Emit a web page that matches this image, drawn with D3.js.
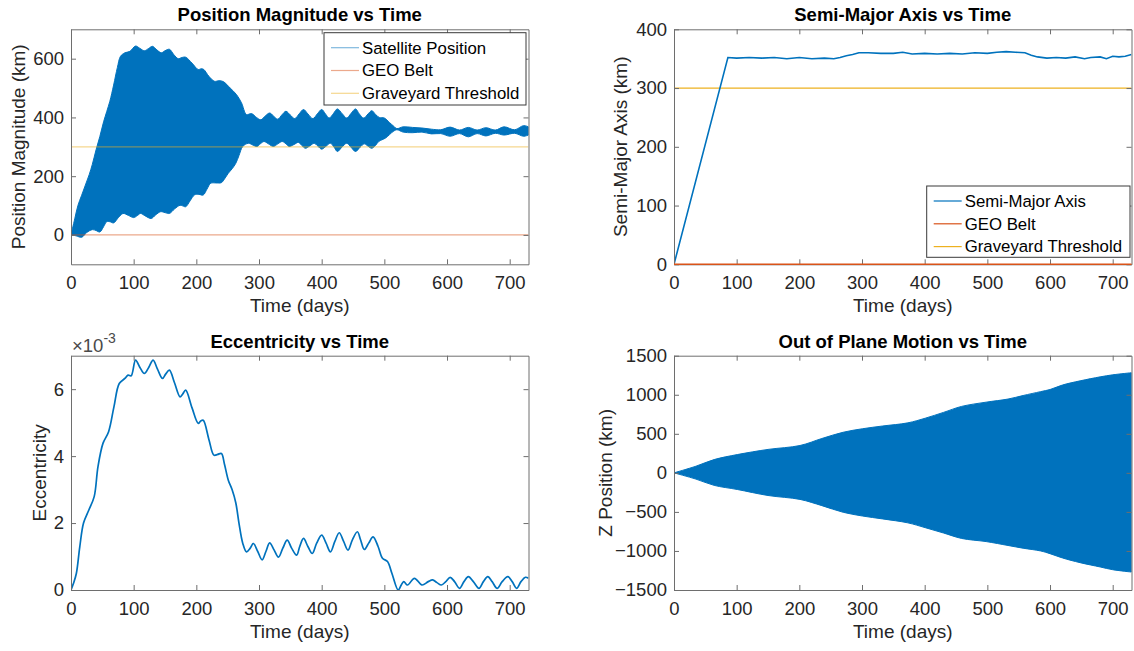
<!DOCTYPE html>
<html>
<head>
<meta charset="utf-8">
<title>Orbit plots</title>
<script src="https://d3js.org/d3.v7.min.js"></script>
<style>
  body { margin: 0; background: #fff; }
  svg { display: block; font-family: "Liberation Sans", Arial, sans-serif; }
</style>
</head>
<body>
<svg id="fig" width="1134" height="651"></svg>
<script>
// ---- data ----
var xTicks = [0, 100, 200, 300, 400, 500, 600, 700];

// position magnitude: envelope of the fast daily oscillation (km)
var posUpperDays = [0,6,11,17,23,29,34,40,46,52,57,62,68,74,79,86,94,103,110,117,124,130,137,144,150,157,164,171,177,183,193,203,208,212,220,229,236,243,254,264,272,280,288,296,303,310,317,323,330,337,343,350,357,364,371,378,386,393,400,406,412,419,425,433,440,447,454,460,467,474,480,486,492,500,508,515,520,530,545,560,575,590,605,620,634,648,662,677,691,708,722,730];
var posUpperKm = [0,55,100,135,170,205,240,290,335,385,420,455,510,570,608,620,625,643,635,627,635,642,630,620,627,632,614,600,604,605,585,563,566,563,540,523,525,522,500,478,450,410,413,400,392,405,415,405,394,410,421,408,396,412,427,412,396,412,427,412,398,414,429,412,398,414,429,412,398,412,423,410,400,398,383,370,362,368,366,364,360,358,367,357,366,357,365,357,368,358,372,368];
var posLowerDays = [0,8,17,25,34,40,46,52,57,62,68,76,83,92,100,106,111,119,128,135,143,150,157,165,174,178,183,190,197,204,211,217,223,231,240,246,251,257,263,268,274,283,290,297,302,308,315,323,330,337,343,348,356,363,368,374,381,388,394,400,407,414,420,425,432,440,447,454,461,468,474,480,486,491,502,514,520,530,545,560,575,590,605,620,634,648,662,677,691,708,722,730];
var posLowerKm = [0,-3,-8,8,18,15,10,28,45,45,41,60,73,66,59,66,73,64,56,68,79,76,73,88,101,99,96,116,136,138,136,156,176,177,178,194,210,225,244,270,301,312,306,301,310,318,310,301,310,318,310,301,308,315,305,295,303,312,302,292,302,312,298,284,298,312,298,284,298,310,302,295,305,318,330,352,358,350,348,350,344,345,336,345,334,345,337,346,340,346,336,340];

var geoBeltKm = 0;
var graveyardKm = 300;

// semi-major axis offset (km)
var smaDays = [0,86,100,120,140,160,180,200,220,240,255,265,275,285,295,310,330,350,365,380,400,420,440,460,480,500,515,530,545,560,570,580,595,610,625,640,655,665,680,690,700,710,720,730];
var smaKm = [0,352,351,352,351,352,350,352,350,351,350,352,355,357,360,360,359,359,361,358,359,358,359,358,360,359,361,362,361,360,356,353,351,352,351,353,350,352,353,350,354,353,354,357];

// eccentricity
var eccDays = [0,4,8.6,14,20,28.5,37,43,51,60,68.5,77,86,91,96,103,110,117,124,131,138,146,151,157,165,174,178,183,193,203,207,211,220,228,234,240,245,251,257,263,268,274,280,286,291,298,305,311,317,324,331,338,345,352,360,365,371,378,385,392,400,407,414,421,428,435,442,449,457,462,468,475,482,490,497,505,512,522,527,531,537,548,560,570,577,584,591,598,605,612,620,627,634,642,651,658,665,672,680,688,697,704,711,718,725,730];
var eccValues = [0,0.0002,0.0005,0.00129,0.002,0.00239,0.00279,0.00368,0.00438,0.00473,0.00547,0.00617,0.00632,0.00642,0.0064,0.00687,0.00665,0.00647,0.00665,0.00687,0.0066,0.00632,0.00645,0.00657,0.0062,0.00577,0.00585,0.00597,0.00545,0.00498,0.00505,0.00507,0.0045,0.00403,0.00405,0.00408,0.00375,0.00328,0.003,0.0026,0.002,0.0014,0.00114,0.00125,0.00139,0.00115,0.0009,0.00115,0.00141,0.0012,0.00098,0.00125,0.00149,0.00125,0.00104,0.0013,0.00154,0.0013,0.00109,0.0014,0.00164,0.0014,0.00114,0.00145,0.00171,0.00145,0.00119,0.0015,0.00174,0.0015,0.00121,0.0014,0.00159,0.0013,0.00095,0.00085,0.0005,0,0.00015,0.00025,0.00015,0.00035,0.00015,0.00025,0.0003,0.00022,0.00015,0.00025,0.00038,0.00025,0.00005,0.00025,0.0004,0.00025,0.00005,0.00025,0.0004,0.00025,0.00005,0.00025,0.0004,0.00025,0.00005,0.00025,0.00038,0.00035];

// out of plane motion envelope (km)
var zDays = [0,35,64,101,150,201,236,270,301,333,373,401,430,459,498,533,557,585,600,620,648,680,700,730];
var zUpper = [0,85,170,234,300,350,440,520,565,600,640,700,774,851,905,945,990,1040,1067,1125,1178,1229,1255,1282];
var zLower = [0,-80,-160,-213,-290,-340,-420,-505,-553,-590,-640,-702,-770,-840,-880,-930,-965,-1000,-1035,-1090,-1150,-1205,-1240,-1270];

// ---- drawing ----
var blue = "#0072bd", orange = "#d95319", yellow = "#edb120";
var textColor = "#262626", lineColor = "#6e6e6e";
var svg = d3.select("#fig");

function makePanel(p) {
  var x = d3.scaleLinear().domain([0, 730]).range([p.left, p.right]);
  var y = d3.scaleLinear().domain(p.yDomain).range([p.bottom, p.top]);
  svg.append("clipPath").attr("id", "clip-" + p.id)
    .append("rect")
    .attr("x", p.left).attr("y", p.top)
    .attr("width", p.right - p.left).attr("height", p.bottom - p.top);
  var plot = svg.append("g").attr("clip-path", "url(#clip-" + p.id + ")");
  return { x: x, y: y, plot: plot, p: p };
}

function styleAxis(sel) {
  sel.select(".domain").attr("stroke", lineColor);
  sel.selectAll(".tick line").attr("stroke", lineColor);
  sel.selectAll("text").attr("fill", textColor).attr("font-size", 18.5)
    .attr("font-family", "Liberation Sans, Arial, sans-serif");
}

function drawFrame(ax, opts) {
  var p = ax.p;
  var g = svg.append("g");
  g.append("g").attr("transform", "translate(0," + p.bottom + ")")
    .call(d3.axisBottom(ax.x).tickValues(xTicks).tickSizeInner(-5).tickSizeOuter(0).tickPadding(12))
    .call(styleAxis);
  g.append("g").attr("transform", "translate(0," + p.top + ")")
    .call(d3.axisTop(ax.x).tickValues(xTicks).tickSizeInner(-5).tickSizeOuter(0).tickFormat(""))
    .call(styleAxis);
  g.append("g").attr("transform", "translate(" + p.left + ",0)")
    .call(d3.axisLeft(ax.y).tickValues(opts.yTicks).tickSizeInner(-5).tickSizeOuter(0).tickPadding(7)
      .tickFormat(opts.yFormat || d3.format("d")))
    .call(styleAxis);
  g.append("g").attr("transform", "translate(" + p.right + ",0)")
    .call(d3.axisRight(ax.y).tickValues(opts.yTicks).tickSizeInner(-5).tickSizeOuter(0).tickFormat(""))
    .call(styleAxis);

  g.append("text")
    .attr("x", (p.left + p.right) / 2).attr("y", p.top - 8)
    .attr("text-anchor", "middle").attr("font-weight", "bold").attr("font-size", 18.5)
    .attr("fill", "#000").text(opts.title);
  g.append("text")
    .attr("x", (p.left + p.right) / 2).attr("y", p.bottom + 48)
    .attr("text-anchor", "middle").attr("font-size", 19)
    .attr("fill", textColor).text("Time (days)");
  g.append("text")
    .attr("transform", "translate(" + opts.yLabelX + "," + (p.top + p.bottom) / 2 + ") rotate(-90)")
    .attr("text-anchor", "middle").attr("font-size", 19)
    .attr("fill", textColor).text(opts.yLabel);
  return g;
}

function drawLegend(box, items, alpha) {
  var g = svg.append("g");
  g.append("rect")
    .attr("x", box.x).attr("y", box.y).attr("width", box.w).attr("height", box.h)
    .attr("fill", "#fff").attr("stroke", "#3a3a3a").attr("stroke-width", 1);
  items.forEach(function (it, i) {
    var cy = box.y + 15 + i * 22.8;
    g.append("line")
      .attr("x1", box.x + 7).attr("x2", box.x + 35).attr("y1", cy).attr("y2", cy)
      .attr("stroke", it.color).attr("stroke-width", 1.2).attr("stroke-opacity", alpha);
    g.append("text")
      .attr("x", box.x + 38).attr("y", cy).attr("dy", "0.35em")
      .attr("font-size", 16.8).attr("fill", "#000").text(it.label);
  });
}

// panel 1: position magnitude
var ax1 = makePanel({ id: "pos", left: 71, right: 528.5, top: 29.3, bottom: 264.3, yDomain: [-100, 700] });
var upperPts = posUpperDays.map(function (d, i) { return [ax1.x(d), ax1.y(posUpperKm[i])]; });
var lowerPts = posLowerDays.map(function (d, i) { return [ax1.x(d), ax1.y(posLowerKm[i])]; }).reverse();
var env = d3.line().curve(d3.curveCatmullRom);
ax1.plot.append("path")
  .attr("d", env(upperPts) + env(lowerPts).replace(/^M/, "L") + "Z")
  .attr("fill", blue).attr("stroke", blue).attr("stroke-width", 1);
ax1.plot.append("line")
  .attr("x1", ax1.x(0)).attr("x2", ax1.x(730)).attr("y1", ax1.y(geoBeltKm)).attr("y2", ax1.y(geoBeltKm))
  .attr("stroke", orange).attr("stroke-width", 1.2).attr("stroke-opacity", 0.5);
ax1.plot.append("line")
  .attr("x1", ax1.x(0)).attr("x2", ax1.x(730)).attr("y1", ax1.y(graveyardKm)).attr("y2", ax1.y(graveyardKm))
  .attr("stroke", yellow).attr("stroke-width", 1.2).attr("stroke-opacity", 0.5);
drawFrame(ax1, { yTicks: [0, 200, 400, 600], title: "Position Magnitude vs Time", yLabel: "Position Magnitude (km)", yLabelX: 25 });
drawLegend({ x: 324, y: 32.7, w: 202, h: 72.3 }, [
  { label: "Satellite Position", color: blue },
  { label: "GEO Belt", color: orange },
  { label: "Graveyard Threshold", color: yellow }
], 0.5);

// panel 2: semi-major axis
var ax2 = makePanel({ id: "sma", left: 674, right: 1131.5, top: 29.3, bottom: 264.3, yDomain: [0, 400] });
ax2.plot.append("line")
  .attr("x1", ax2.x(0)).attr("x2", ax2.x(730)).attr("y1", ax2.y(graveyardKm)).attr("y2", ax2.y(graveyardKm))
  .attr("stroke", yellow).attr("stroke-width", 1.2);
ax2.plot.append("path")
  .datum(smaDays.map(function (d, i) { return [d, smaKm[i]]; }))
  .attr("d", d3.line().x(function (d) { return ax2.x(d[0]); }).y(function (d) { return ax2.y(d[1]); }))
  .attr("fill", "none").attr("stroke", blue).attr("stroke-width", 1.6);
drawFrame(ax2, { yTicks: [0, 100, 200, 300, 400], title: "Semi-Major Axis vs Time", yLabel: "Semi-Major Axis (km)", yLabelX: 627 });
svg.append("line")
  .attr("x1", ax2.x(0)).attr("x2", ax2.x(730)).attr("y1", ax2.y(geoBeltKm)).attr("y2", ax2.y(geoBeltKm))
  .attr("stroke", orange).attr("stroke-width", 1.5);
drawLegend({ x: 926.7, y: 186, w: 203.3, h: 71.3 }, [
  { label: "Semi-Major Axis", color: blue },
  { label: "GEO Belt", color: orange },
  { label: "Graveyard Threshold", color: yellow }
], 1);

// panel 3: eccentricity
var ax3 = makePanel({ id: "ecc", left: 71, right: 528.5, top: 355.7, bottom: 590, yDomain: [0, 0.007] });
ax3.plot.append("path")
  .datum(eccDays.map(function (d, i) { return [d, eccValues[i]]; }))
  .attr("d", d3.line().curve(d3.curveCatmullRom)
    .x(function (d) { return ax3.x(d[0]); }).y(function (d) { return ax3.y(d[1]); }))
  .attr("fill", "none").attr("stroke", blue).attr("stroke-width", 1.7);
drawFrame(ax3, { yTicks: [0, 0.002, 0.004, 0.006], yFormat: function (d) { return Math.round(d * 1000); },
  title: "Eccentricity vs Time", yLabel: "Eccentricity", yLabelX: 46 });
var expo = svg.append("text").attr("x", 72).attr("y", 352).attr("font-size", 18.5).attr("fill", "#4a4a4a");
expo.append("tspan").text("\u00d710");
expo.append("tspan").attr("dy", -9).attr("font-size", 14).text("-3");

// panel 4: out of plane motion
var ax4 = makePanel({ id: "z", left: 674, right: 1131.5, top: 355.7, bottom: 590, yDomain: [-1500, 1500] });
ax4.plot.append("path")
  .datum(zDays.map(function (d, i) { return [d, zUpper[i], zLower[i]]; }))
  .attr("d", d3.area().curve(d3.curveCatmullRom)
    .x(function (d) { return ax4.x(d[0]); })
    .y0(function (d) { return ax4.y(d[2]); })
    .y1(function (d) { return ax4.y(d[1]); }))
  .attr("fill", blue).attr("stroke", blue).attr("stroke-width", 1);
drawFrame(ax4, { yTicks: [-1500, -1000, -500, 0, 500, 1000, 1500], title: "Out of Plane Motion vs Time", yLabel: "Z Position (km)", yLabelX: 612 });
</script>
</body>
</html>
